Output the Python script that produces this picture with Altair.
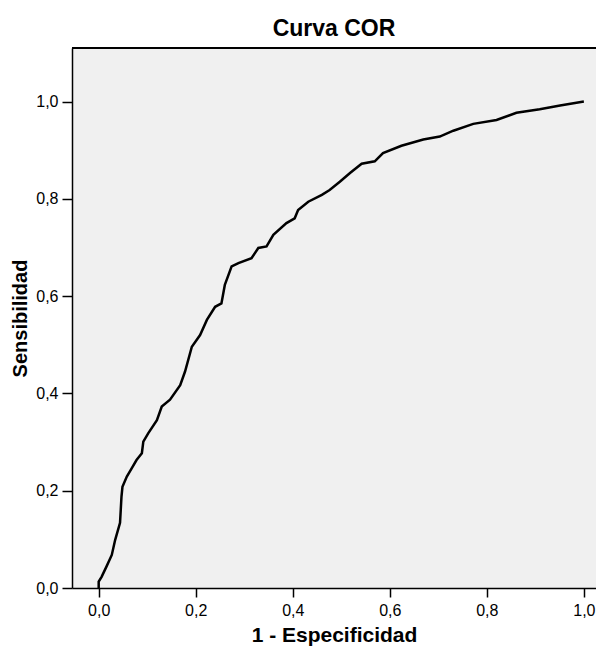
import altair as alt
import pandas as pd

fpr = [0.0, 0.0, 0.006, 0.016, 0.027, 0.034, 0.044, 0.047, 0.049, 0.058, 0.068,
       0.078, 0.089, 0.092, 0.102, 0.120, 0.130, 0.147, 0.168, 0.178, 0.192,
       0.209, 0.223, 0.240, 0.253, 0.260, 0.274, 0.288, 0.315, 0.329, 0.346,
       0.360, 0.387, 0.404, 0.411, 0.432, 0.460, 0.476, 0.497, 0.518, 0.542,
       0.569, 0.586, 0.624, 0.669, 0.703, 0.731, 0.772, 0.820, 0.861, 0.909,
       0.951, 1.0]
tpr = [0.0, 0.013, 0.023, 0.044, 0.068, 0.099, 0.134, 0.188, 0.208, 0.229, 0.246,
       0.263, 0.277, 0.301, 0.318, 0.345, 0.373, 0.387, 0.417, 0.445, 0.496,
       0.520, 0.551, 0.578, 0.585, 0.623, 0.661, 0.668, 0.678, 0.699, 0.702,
       0.726, 0.750, 0.760, 0.777, 0.794, 0.808, 0.818, 0.835, 0.853, 0.872,
       0.877, 0.894, 0.909, 0.922, 0.928, 0.940, 0.954, 0.962, 0.977, 0.984,
       0.992, 1.0]
ticks = [0.0, 0.2, 0.4, 0.6, 0.8, 1.0]

df = pd.DataFrame({"fpr": fpr, "tpr": tpr, "order": list(range(len(fpr)))})

W, H = 524, 540
FONT = "Liberation Sans"
label_expr = "replace(format(datum.value, '.1f'), '.', ',')"

line = alt.Chart(df).mark_line(color="black", strokeWidth=2.5, clip=True).encode(
    x=alt.X("fpr:Q",
            scale=alt.Scale(domain=[-0.055, 1.025], nice=False, zero=False),
            axis=alt.Axis(values=ticks, labelExpr=label_expr, grid=False,
                          title="1 - Especificidad", titleFontSize=21,
                          titleFontWeight="bold", titleFont=FONT, titleColor="black",
                          titlePadding=6, labelFont=FONT, labelFontSize=16,
                          labelColor="black", labelPadding=5, tickSize=9,
                          tickWidth=1.5, tickColor="black", domainColor="black",
                          domainWidth=1.5)),
    y=alt.Y("tpr:Q",
            scale=alt.Scale(domain=[0, 1.11], nice=False),
            axis=alt.Axis(values=ticks, labelExpr=label_expr, grid=False,
                          title="Sensibilidad", titleFontSize=20,
                          titleFontWeight="bold", titleFont=FONT, titleColor="black",
                          titlePadding=5, labelFont=FONT, labelFontSize=16,
                          labelColor="black", labelPadding=4, tickSize=10,
                          tickWidth=1.5, tickColor="black", domainColor="black",
                          domainWidth=1.5)),
    order="order:Q",
)

top_border = alt.Chart(df).mark_rule(color="black", strokeWidth=1.5).encode(
    x=alt.value(0), x2=alt.value(W), y=alt.value(0)
)

chart = alt.layer(line, top_border).properties(
    width=W, height=H,
    title=alt.TitleParams("Curva COR", fontSize=23, fontWeight="bold", font=FONT,
                          color="black", anchor="middle", offset=6),
    autosize=alt.AutoSizeParams(type="none"),
    padding={"left": 64, "top": 40, "right": 0, "bottom": 58},
).configure(background="white").configure_view(fill="#f0f0f0", stroke=None)

chart.save("out.html", embed_options={"renderer": "svg", "actions": False})
